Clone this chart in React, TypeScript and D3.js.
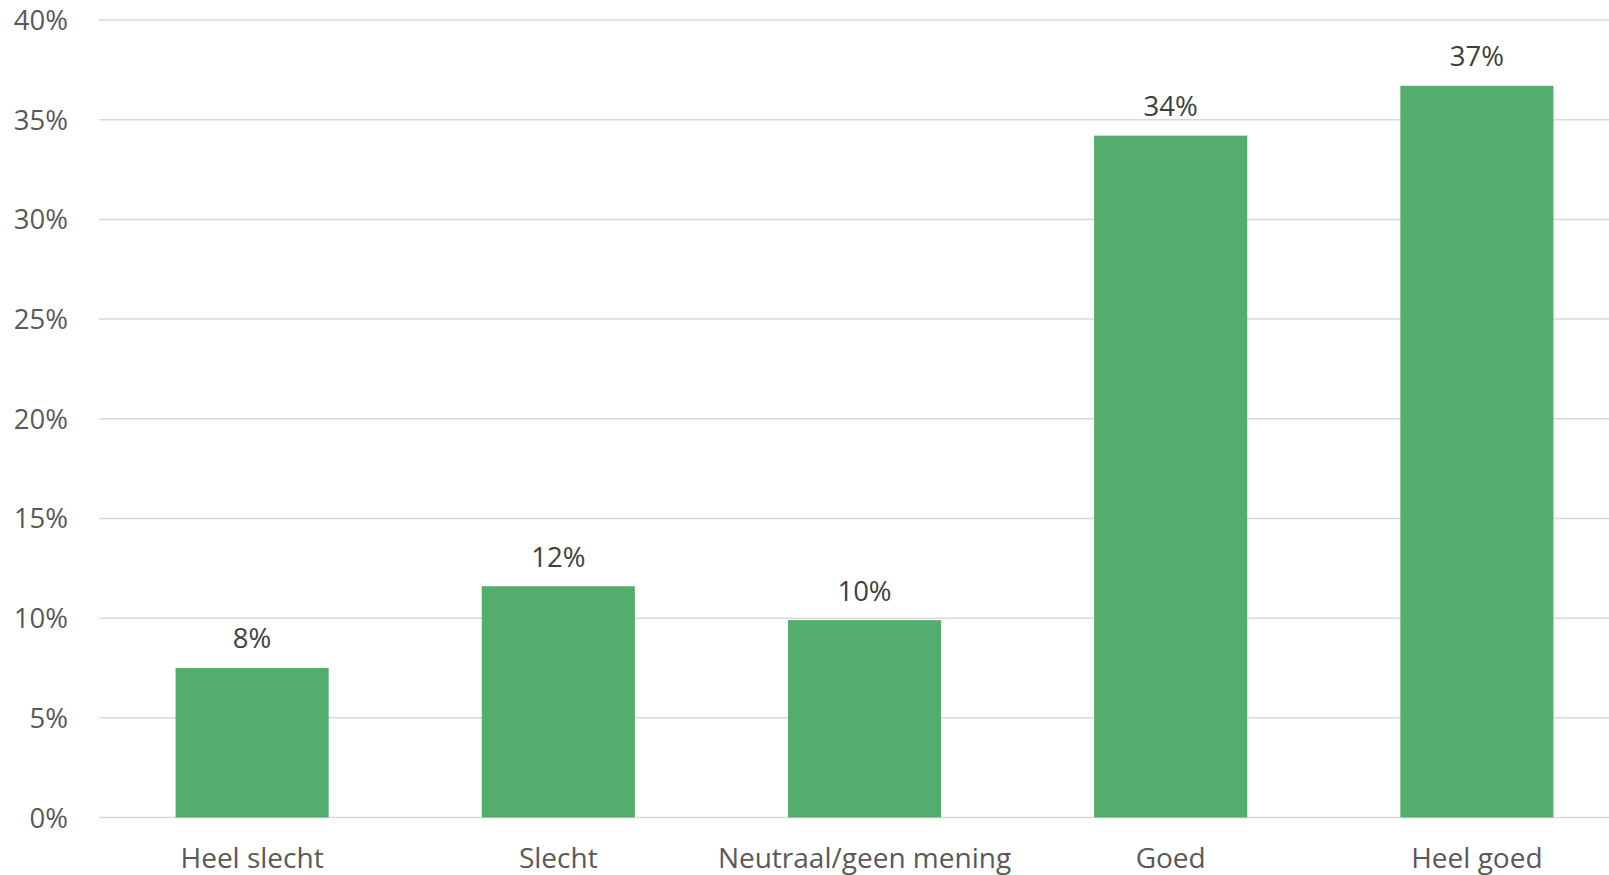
import React from "react";
import * as d3 from "d3";

const categories = ["Heel slecht", "Slecht", "Neutraal/geen mening", "Goed", "Heel goed"];
const values = [7.5, 11.6, 9.9, 34.2, 36.7];
const yTicks = [0, 5, 10, 15, 20, 25, 30, 35, 40];

const W = 1609;
const H = 875;
const FONT = "'Open Sans', sans-serif";

export default function App() {
  const x = d3
    .scaleBand<string>()
    .domain(categories)
    .range([99, 1630])
    .paddingInner(0.5)
    .paddingOuter(0.25);
  const y = d3.scaleLinear().domain([0, 40]).range([817.5, 20]);

  return (
    <svg
      width={W}
      height={H}
      style={{ position: "absolute", left: 0, top: 0, display: "block", background: "#fff" }}
    >
      {yTicks.map((t) => (
        <g key={t}>
          <line x1={99} x2={W} y1={y(t)} y2={y(t)} stroke="#d9d9d9" strokeWidth={1.5} />
          <text
            x={68}
            y={y(t) + 10}
            textAnchor="end"
            fontFamily={FONT}
            fontSize={27.5}
            fill="#595959"
          >
            {t}%
          </text>
        </g>
      ))}
      {categories.map((c, i) => (
        <g key={c}>
          <rect
            x={x(c)}
            y={y(values[i])}
            width={x.bandwidth()}
            height={y(0) - y(values[i])}
            fill="#55ad6d"
          />
          <text
            x={(x(c) as number) + x.bandwidth() / 2}
            y={y(values[i]) - 19.5}
            textAnchor="middle"
            fontFamily={FONT}
            fontSize={27.5}
            fill="#404040"
          >
            {Math.round(values[i])}%
          </text>
          <text
            x={(x(c) as number) + x.bandwidth() / 2}
            y={868}
            textAnchor="middle"
            fontFamily={FONT}
            fontSize={28}
            fill="#595959"
          >
            {c}
          </text>
        </g>
      ))}
    </svg>
  );
}
